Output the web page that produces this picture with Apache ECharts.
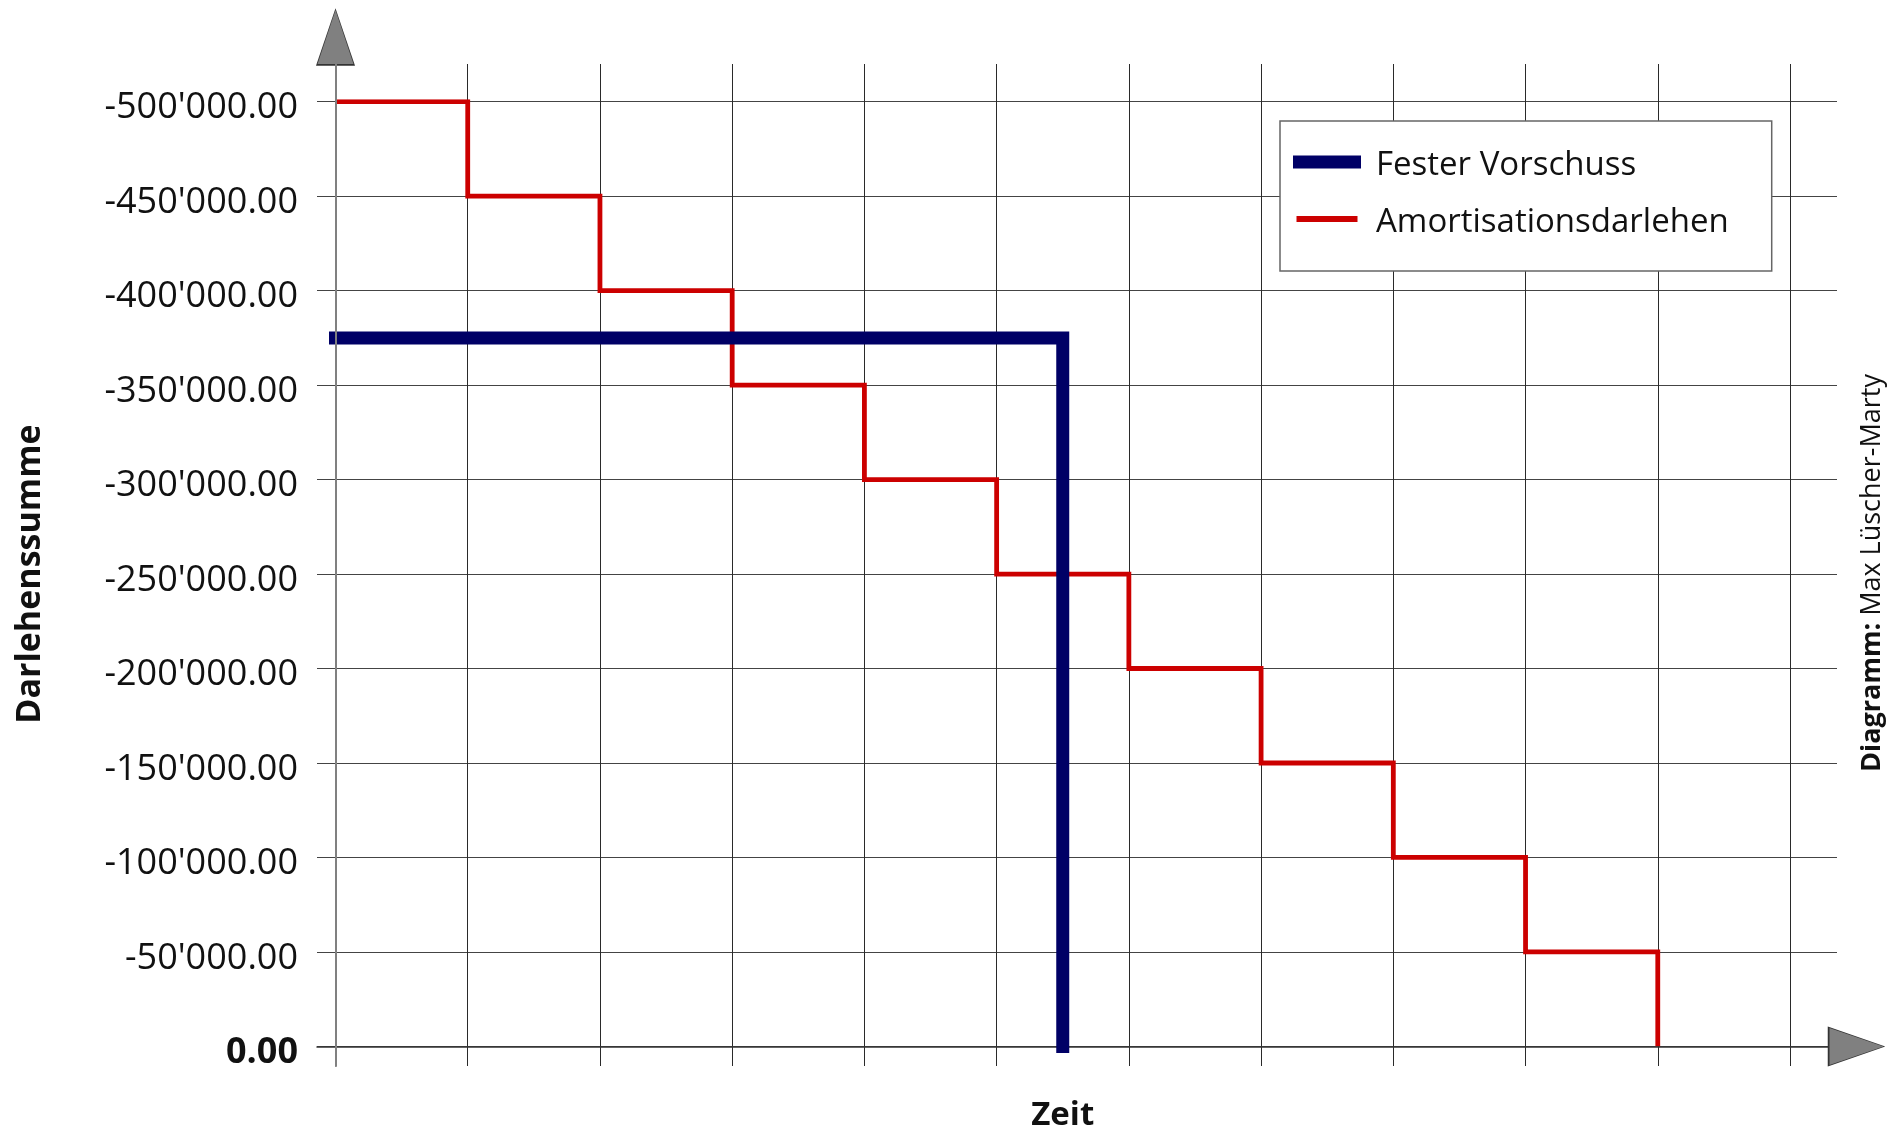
<!DOCTYPE html>
<html><head><meta charset="utf-8">
<script src="https://cdn.jsdelivr.net/npm/echarts@6/dist/echarts.min.js"></script>
<style>html,body{margin:0;padding:0;background:#fff}#c{width:1899px;height:1134px}</style>
</head><body><div id="c"></div>
<script>
// ---- data ----
const periods = [0, 1, 2, 3, 4, 5, 6, 7, 8, 9, 10];
const amortisationValues = [-500000, -450000, -400000, -350000, -300000, -250000, -200000, -150000, -100000, -50000, 0];
const festerX = [0, 5.5, 5.5];
const festerValues = [-375000, -375000, 0];
const yMin = -500000, yMax = 0, yStep = 50000;
const xMin = 0, xMax = 11, xStep = 1;
const seriesNames = ['Fester Vorschuss', 'Amortisationsdarlehen'];
const yTitle = 'Darlehenssumme';
const xTitle = 'Zeit';
const creditBold = 'Diagramm:';
const creditText = 'Max Lüscher-Marty';

const FF = '"Open Sans", "Noto Sans", sans-serif';

function fmt(v) {
  const neg = v < 0;
  const s = Math.abs(v).toFixed(2);
  let [i, d] = s.split('.');
  i = i.replace(/\B(?=(\d{3})+(?!\d))/g, "'");
  return (neg ? '-' : '') + i + '.' + d;
}

const chart = echarts.init(document.getElementById('c'), null, {renderer: 'canvas'});
const hidden = {show: false};
chart.setOption({
  animation: false,
  backgroundColor: '#fff',
  grid: [
    {left: 335.5, right: 109, top: 64, bottom: 68, outerBoundsMode: 'none'},
    {left: 317, right: 62, top: 101.7, bottom: 87.6, outerBoundsMode: 'none'},
    {left: 335.5, right: 109, top: 101.7, bottom: 87.6, outerBoundsMode: 'none'}
  ],
  xAxis: [
    {gridIndex: 0, type: 'value', min: xMin, max: xMax, interval: xStep,
      axisLine: hidden, axisTick: hidden, axisLabel: hidden,
      splitLine: {show: true, lineStyle: {color: '#2a2a2a', width: 1}}},
    {gridIndex: 1, type: 'value', min: 0, max: 1, position: 'bottom', z: 4,
      axisLine: {show: true, onZero: false, symbol: ['none', 'triangle'], symbolSize: [37, 54], symbolOffset: [0, 19.5],
        lineStyle: {color: '#808080', width: 0}},
      axisTick: hidden, axisLabel: hidden, splitLine: hidden},
    {gridIndex: 1, type: 'value', min: 0, max: 1, position: 'bottom', z: 3,
      axisLine: {show: true, onZero: false, symbol: ['none', 'triangle'], symbolSize: [40, 57.5], symbolOffset: [0, 19.5],
        lineStyle: {color: '#333', width: 1.5}},
      axisTick: hidden, axisLabel: hidden, splitLine: hidden},
    {gridIndex: 2, type: 'value', min: xMin, max: xMax,
      axisLine: hidden, axisTick: hidden, axisLabel: hidden, splitLine: hidden,
      name: xTitle, nameLocation: 'middle', nameGap: 53,
      nameTextStyle: {fontSize: 33, fontWeight: 'bold', fontFamily: FF, color: '#111'}}
  ],
  yAxis: [
    {gridIndex: 0, type: 'value', min: 0, max: 1, position: 'left', z: 4,
      axisLine: {show: true, onZero: false, symbol: ['none', 'triangle'], symbolSize: [36, 54], symbolOffset: [0, 27],
        lineStyle: {color: '#808080', width: 2}},
      axisTick: hidden, axisLabel: hidden, splitLine: hidden},
    {gridIndex: 0, type: 'value', min: 0, max: 1, position: 'left', z: 3,
      axisLine: {show: true, onZero: false, symbol: ['none', 'triangle'], symbolSize: [39, 57.5], symbolOffset: [0, 27],
        lineStyle: {color: '#333', width: 1}},
      axisTick: hidden, axisLabel: hidden, splitLine: hidden},
    {gridIndex: 1, type: 'value', min: yMin, max: yMax, interval: yStep, inverse: true,
      axisLine: hidden, axisTick: hidden,
      axisLabel: {margin: 19, fontSize: 36, fontFamily: FF, color: '#111', padding: [13, 0, 0, 0],
        formatter: v => v === 0 ? '{b|' + fmt(v) + '}' : fmt(v),
        rich: {b: {fontSize: 36, fontFamily: FF, fontWeight: 'bold', color: '#111'}}},
      splitLine: {show: true, lineStyle: {color: '#444', width: 1}},
      name: yTitle, nameLocation: 'middle', nameRotate: 90, nameGap: 270,
      nameTextStyle: {fontSize: 34, fontWeight: 'bold', fontFamily: FF, color: '#111'}},
    {gridIndex: 2, type: 'value', min: yMin, max: yMax, inverse: true, show: false}
  ],
  legend: {
    data: [
      {name: seriesNames[0], icon: 'path://M0,0.5L68,0.5L68,13.5L0,13.5Z M0,0 M78,21'},
      {name: seriesNames[1], icon: 'path://M3.5,4L64.5,4L64.5,10L3.5,10Z M0,0 M78,21'}
    ],
    orient: 'vertical', left: 1280, top: 121,
    itemWidth: 78, itemHeight: 21, itemGap: 17,
    padding: [24.5, 43, 28.5, 13],
    borderColor: '#666', borderWidth: 1.5, backgroundColor: '#fff',
    selectedMode: false,
    itemStyle: {borderWidth: 0},
    textStyle: {fontSize: 33, fontFamily: FF, color: '#111', lineHeight: 40}
  },
  graphic: [{
    type: 'text', x: 1872, y: 573, rotation: Math.PI / 2,
    style: {
      text: '{b|' + creditBold + '} ' + creditText,
      rich: {b: {fontWeight: 'bold', fontSize: 27, fontFamily: FF, fill: '#111'}},
      fontSize: 27, fontFamily: FF, fill: '#111', align: 'center', verticalAlign: 'middle'
    }
  }],
  series: [
    {name: seriesNames[1], type: 'line', xAxisIndex: 3, yAxisIndex: 3, step: 'end',
      data: periods.map((p, i) => [p, amortisationValues[i]]),
      symbol: 'none', z: 2,
      lineStyle: {color: '#cc0000', width: 4.8, join: 'miter'}, itemStyle: {color: '#cc0000'}},
    {name: seriesNames[0], type: 'line', xAxisIndex: 3, yAxisIndex: 3,
      data: festerX.map((x, i) => [x, festerValues[i]]),
      symbol: 'none', z: 3,
      lineStyle: {color: '#000066', width: 13, cap: 'square', join: 'miter'}, itemStyle: {color: '#000066'}}
  ]
});
</script></body></html>
